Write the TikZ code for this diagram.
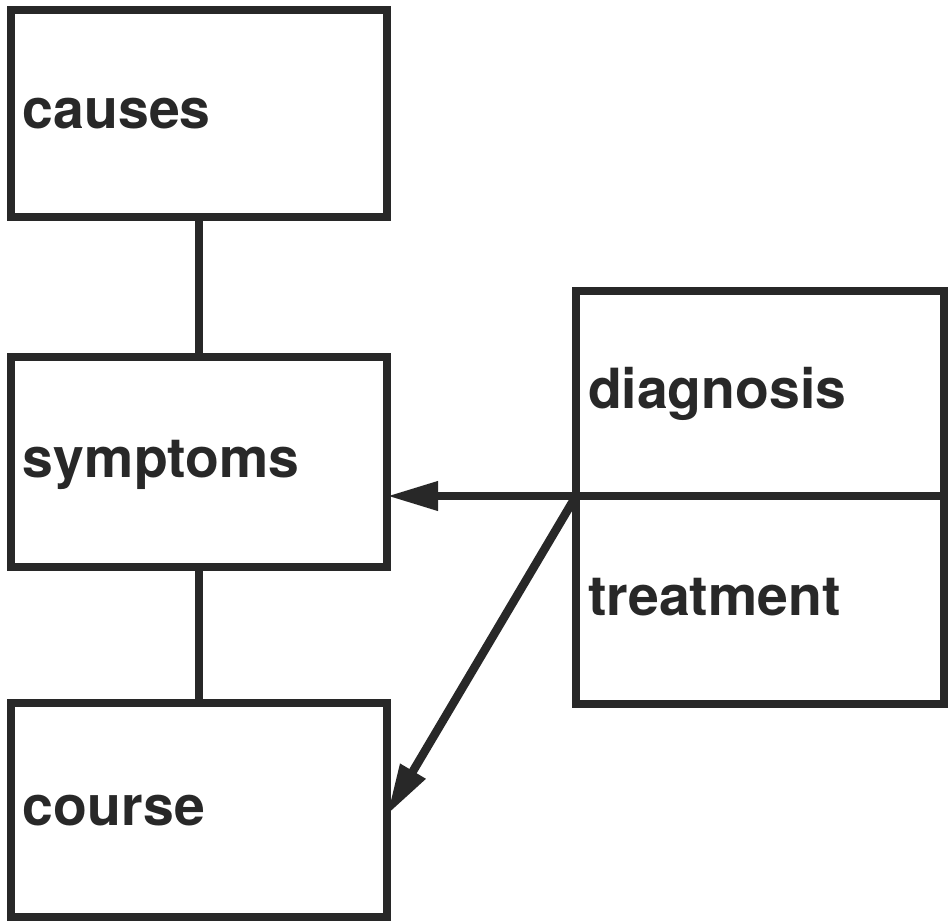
\documentclass[tikz,border=0pt]{standalone}
\usepackage{fontspec}
\setmainfont{TeX Gyre Heros}
\usetikzlibrary{positioning, arrows.meta}
\definecolor{ink}{RGB}{40,40,40}
\tikzstyle{topic}=[rectangle, draw=ink, line width=0.17cm, outer sep=0pt, inner xsep=0.24cm, text=ink, font=\fontsize{31.5}{37}\bfseries\selectfont, text height=0.6cm, text depth=0pt, align=left]
\tikzstyle{link}=[draw=ink, line width=0.17cm]
\tikzstyle{pointer}=[link, -{Triangle[length=1.02cm, width=0.55cm]}]

\begin{document}
\begin{tikzpicture}
            %left column and the two stacked boxes on the right
            \useasboundingbox (0,0) rectangle (19.02,-18.42);
            \node[topic, text width=7.04cm, minimum height=4.14cm](causes) at (3.98,-2.27){causes};
            \node[topic, text width=7.04cm, minimum height=4.2cm, below=2.8cm of causes](symptoms){symptoms};
            \node[topic, text width=7.04cm, minimum height=4.28cm, below=2.72cm of symptoms](course){course};
            \node[topic, text width=6.88cm, minimum height=4.1cm](diagnosis) at (15.2,-7.87){diagnosis};
            \node[topic, text width=6.88cm, minimum height=4.16cm, below=0cm of diagnosis](treatment){treatment};
            \draw[link] (causes) to (symptoms);
            \draw[link] (symptoms) to (course);
            \draw[pointer] (diagnosis.south west) to (diagnosis.south west -| symptoms.east);
            \draw[pointer] (diagnosis.south west) to ([yshift=-0.1cm]course.east);
        \end{tikzpicture}
\end{document}
